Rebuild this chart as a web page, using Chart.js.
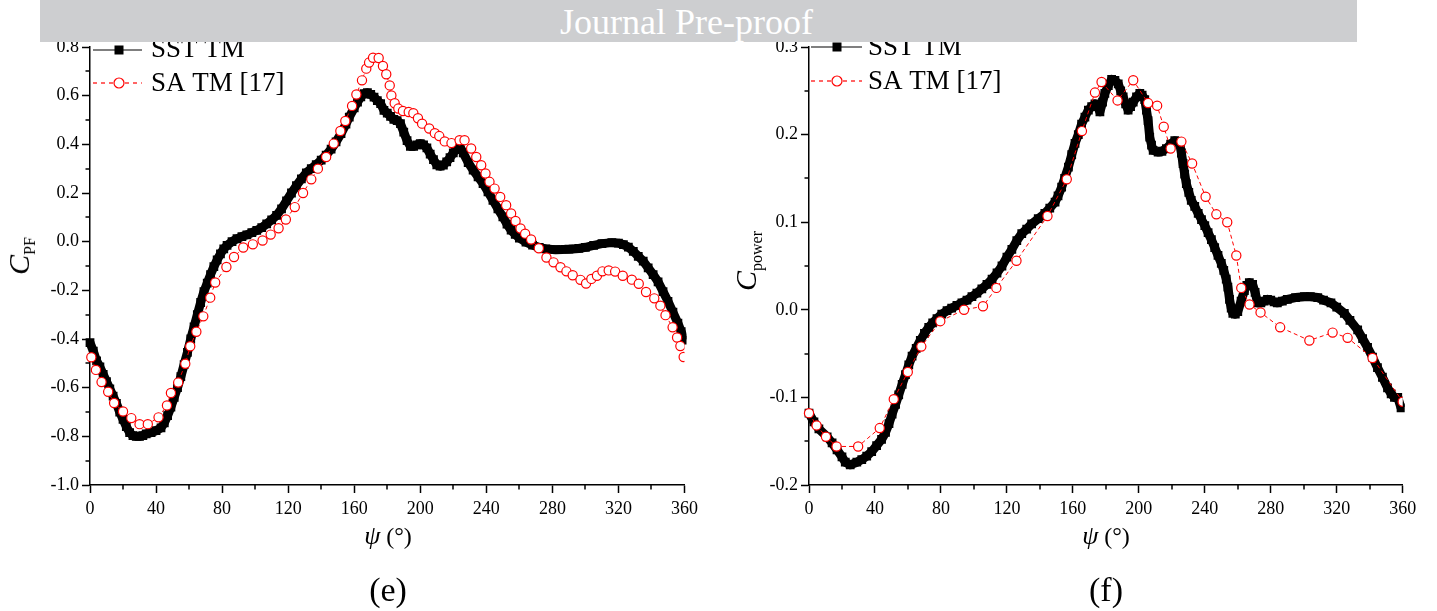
<!DOCTYPE html>
<html><head><meta charset="utf-8">
<script src="https://cdn.jsdelivr.net/npm/chart.js@4/dist/chart.umd.min.js"></script>
<style>
html,body{margin:0;padding:0;background:#fff;width:1437px;height:611px;overflow:hidden;font-family:"Liberation Serif","Times New Roman",serif;}
#wrap{position:relative;width:1437px;height:611px;}
canvas{position:absolute;top:0;}
#c1{left:0;} #c2{left:718px;}
.banner{position:absolute;left:40px;top:0;width:1317px;height:42px;background:#cdced0;z-index:5;overflow:hidden;}
.banner span{position:absolute;left:520px;top:5px;line-height:35px;font-size:36px;color:#fff;white-space:nowrap;}
.t{position:absolute;transform:translate(-50%,-50%);white-space:nowrap;color:#000;line-height:1;}
.xt{font-size:24px;}
.xt i{font-size:26px;}
.yt{transform:translate(-50%,-50%) rotate(-90deg);font-size:30px;}
.yt sub{font-size:16px;font-style:normal;vertical-align:-6px;}
.pl{font-size:34px;}
</style></head>
<body><div id="wrap">
<canvas id="c1" width="718" height="611"></canvas>
<canvas id="c2" width="719" height="611"></canvas>
<div class="banner"><span>Journal Pre-proof</span></div>
<div class="t yt" style="left:21px;top:256px;"><i>C</i><sub>PF</sub></div>
<div class="t yt" style="left:748px;top:261px;"><i>C</i><sub>power</sub></div>
<div class="t xt" style="left:388px;top:536px;"><i>ψ</i> (°)</div>
<div class="t xt" style="left:1106px;top:536px;"><i>ψ</i> (°)</div>
<div class="t pl" style="left:388px;top:590px;">(e)</div>
<div class="t pl" style="left:1106px;top:590px;">(f)</div>
</div>
<script>
// ---------- (e) C_PF ----------
const psiSST_e = [0,2,4,6,8,10,12,14,16,18,20,22,24,26,28,30,32,34,37,40,43,45,47,49,51,53,55,57,59,61,63,65,67,69,71,73,75,77,79,81,83,86,89,92,95,98,101,104,107,110,113,116,119,122,125,128,131,134,137,140,143,146,149,152,155,157,160,162,164,166,168,170,172,174,176,178,180,182,184,186,188,190,192,194,196,198,200,202,204,206,208,210,212,214,216,218,220,222,224,226,229,232,235,238,241,244,247,250,252.5,255,257.5,260,264,268,272,276,282,290,296,300,305,310,316,320,323,326,329,332,335,338,341,344,347,350,353,356,358,360];
const cpfSST = [-0.415,-0.45,-0.49,-0.515,-0.545,-0.575,-0.605,-0.635,-0.665,-0.7,-0.73,-0.76,-0.785,-0.797,-0.8,-0.8,-0.797,-0.79,-0.785,-0.777,-0.765,-0.745,-0.715,-0.68,-0.64,-0.6,-0.555,-0.505,-0.455,-0.4,-0.35,-0.3,-0.25,-0.205,-0.17,-0.135,-0.103,-0.075,-0.05,-0.03,-0.015,0,0.012,0.021,0.028,0.037,0.046,0.058,0.073,0.09,0.108,0.135,0.168,0.2,0.23,0.258,0.283,0.3,0.317,0.335,0.356,0.38,0.41,0.444,0.483,0.512,0.55,0.574,0.595,0.608,0.612,0.605,0.594,0.58,0.567,0.54,0.528,0.515,0.503,0.497,0.485,0.45,0.415,0.392,0.392,0.398,0.403,0.398,0.385,0.36,0.337,0.316,0.31,0.315,0.328,0.345,0.365,0.385,0.39,0.365,0.325,0.294,0.266,0.239,0.205,0.17,0.135,0.102,0.072,0.047,0.03,0.015,-0.002,-0.014,-0.024,-0.03,-0.033,-0.031,-0.028,-0.023,-0.015,-0.008,-0.004,-0.006,-0.012,-0.022,-0.04,-0.06,-0.08,-0.108,-0.135,-0.165,-0.205,-0.245,-0.29,-0.335,-0.37,-0.405];
const psiSA_e = [0.8,3.6,7,11,14.6,20,25,30,35,41.5,46.6,49,53.4,57.7,60.7,64.4,68.6,72.8,75.8,82.6,87.2,92.8,98.6,104.5,109.4,114.2,118.6,124,129,134,138,143,147.6,151.6,154.6,158.7,161.3,164.7,167.3,169,171.4,174.8,177.4,179.4,181.5,182.5,184.5,186.7,189.5,193,195.8,198.6,201.1,205.4,208.8,211.5,214.8,218.9,223.8,226.8,230.8,233.9,236.9,239.5,241.9,245,248.4,252,255,257.7,260.7,263.5,267.1,271.8,276.4,280.7,284.9,288.5,292.3,297,300.4,303.6,307,310.3,314.1,318,322.6,328.1,332.3,336.7,341.7,345.4,348.5,352.8,355.5,357.5,359.5];
const cpfSA = [-0.475,-0.527,-0.577,-0.617,-0.663,-0.698,-0.725,-0.75,-0.75,-0.722,-0.673,-0.622,-0.579,-0.502,-0.43,-0.37,-0.307,-0.23,-0.168,-0.104,-0.063,-0.024,-0.011,0.005,0.029,0.055,0.091,0.142,0.2,0.256,0.3,0.348,0.403,0.455,0.496,0.558,0.605,0.663,0.711,0.736,0.756,0.755,0.722,0.688,0.642,0.601,0.569,0.547,0.537,0.533,0.528,0.507,0.485,0.465,0.446,0.434,0.412,0.405,0.417,0.417,0.383,0.348,0.314,0.28,0.246,0.218,0.184,0.15,0.116,0.085,0.054,0.033,0.009,-0.027,-0.065,-0.085,-0.105,-0.122,-0.138,-0.157,-0.172,-0.153,-0.14,-0.122,-0.118,-0.123,-0.14,-0.156,-0.173,-0.207,-0.233,-0.263,-0.302,-0.352,-0.394,-0.429,-0.474];

// ---------- (f) C_power ----------
const psiSST_f = [0,3,6,11,14,17,20,22,25,29,32,35,38,41,44,46.4,48.5,50.4,52.5,54.4,56.5,58.5,60.5,62.5,65,67.5,70,72.6,75,77.6,80.5,83.7,86.5,89.7,92.7,95.8,98.8,101.8,104.8,107.9,111,114,117,120,123,126,129,132,135,139,143,146,149.2,151,153.2,155,157.3,159.3,161.3,163.3,165.3,167.3,169.4,171.4,173.4,175,176.4,178,179.4,181.5,183.5,185.5,187.5,189,190.5,192,193.5,195,196.6,198.6,200.6,202,203.6,204.6,205.6,206.6,207.7,208.7,211.7,214,216.7,219.3,221.8,223.5,224.8,225.8,226.8,227.8,228.8,230.3,231.8,233.9,236,238,240,242,244,246,248,250,251.5,253,254,255,256,257,258.5,260,262,264,265.5,267,269,270.5,272,274,276,278,280,282,284,287,290,295,300.4,304,308.5,312,316.5,320,324.6,328,332.7,335.7,338.7,341.7,344.7,347.7,350.8,353,355,357,359];
const cpowSST = [-0.118,-0.128,-0.136,-0.145,-0.152,-0.16,-0.168,-0.174,-0.177,-0.174,-0.171,-0.167,-0.162,-0.155,-0.148,-0.14,-0.13,-0.119,-0.108,-0.097,-0.085,-0.074,-0.063,-0.053,-0.044,-0.035,-0.027,-0.02,-0.015,-0.01,-0.005,-0.001,0.002,0.005,0.008,0.011,0.015,0.019,0.024,0.029,0.035,0.042,0.05,0.06,0.069,0.079,0.087,0.092,0.098,0.104,0.11,0.116,0.123,0.13,0.14,0.15,0.163,0.177,0.19,0.2,0.212,0.22,0.228,0.232,0.235,0.232,0.226,0.237,0.247,0.256,0.263,0.262,0.258,0.25,0.243,0.235,0.228,0.232,0.237,0.243,0.247,0.245,0.24,0.228,0.216,0.197,0.188,0.182,0.18,0.181,0.184,0.189,0.193,0.192,0.19,0.179,0.167,0.155,0.144,0.134,0.125,0.118,0.11,0.103,0.096,0.088,0.08,0.071,0.062,0.053,0.045,0.035,0.026,0.012,0.002,-0.004,-0.005,-0.002,0.01,0.022,0.028,0.031,0.029,0.02,0.008,0.008,0.01,0.012,0.011,0.009,0.008,0.01,0.012,0.014,0.015,0.015,0.014,0.011,0.008,0.003,-0.004,-0.012,-0.023,-0.033,-0.043,-0.054,-0.066,-0.077,-0.089,-0.096,-0.1,-0.1,-0.112];
const psiSA_f = [0,4.6,10.3,16.7,29.8,42.9,51.4,59.9,68.1,79.6,94,105.5,113.6,125.8,144.6,156.3,165.5,173.4,177.4,187.1,196.6,205.6,211.1,215.1,219.3,225.8,232.3,240.5,247,253.6,259.1,262.1,267.1,273.8,285.7,303.4,317.5,326.6,341.7,360];
const cpowSA = [-0.118,-0.132,-0.145,-0.156,-0.156,-0.135,-0.102,-0.071,-0.042,-0.013,0,0.004,0.025,0.056,0.107,0.149,0.204,0.248,0.26,0.239,0.262,0.236,0.233,0.209,0.184,0.192,0.167,0.129,0.109,0.1,0.062,0.025,0.006,-0.003,-0.02,-0.035,-0.026,-0.032,-0.055,-0.105];

// tick layout
const xMinor = [20,60,100,140,180,220,260,300,340];
const yMinor_e = [-0.9,-0.7,-0.5,-0.3,-0.1,0.1,0.3,0.5,0.7];
const yMinor_f = [-0.15,-0.05,0.05,0.15,0.25];

const serif = '"Liberation Serif","Times New Roman",serif';
const pts = (xs, ys) => xs.map((x, i) => ({x: x, y: ys[i]}));

const minorTicks = {
  id: 'minorTicks',
  afterDraw(chart, args, o) {
    const ctx = chart.ctx, xs = chart.scales.x, ys = chart.scales.y;
    ctx.save(); ctx.strokeStyle = '#000'; ctx.lineWidth = 1.5;
    o.x.forEach(v => { const p = Math.round(xs.getPixelForValue(v)); ctx.beginPath(); ctx.moveTo(p, ys.bottom); ctx.lineTo(p, ys.bottom + o.len); ctx.stroke(); });
    o.y.forEach(v => { const p = Math.round(ys.getPixelForValue(v)); ctx.beginPath(); ctx.moveTo(xs.left, p); ctx.lineTo(xs.left - o.len, p); ctx.stroke(); });
    ctx.restore();
  }
};

const innerLegend = {
  id: 'innerLegend',
  afterDraw(chart, args, o) {
    const ctx = chart.ctx;
    o.rows.forEach(r => {
      const ds = chart.data.datasets[r.ds];
      ctx.save();
      ctx.strokeStyle = ds.borderColor; ctx.lineWidth = 1.2; ctx.setLineDash(r.dash || []);
      ctx.beginPath(); ctx.moveTo(o.x0, r.y); ctx.lineTo(o.x1, r.y); ctx.stroke();
      ctx.setLineDash([]);
      if (ds.pointStyle === 'rect') {
        ctx.fillStyle = '#000'; ctx.fillRect(o.xm - 4.5, r.y - 4.5, 9, 9);
      } else {
        ctx.beginPath(); ctx.arc(o.xm, r.y, 5, 0, 2 * Math.PI);
        ctx.fillStyle = '#fff'; ctx.fill(); ctx.lineWidth = 1.2; ctx.strokeStyle = ds.pointBorderColor; ctx.stroke();
      }
      ctx.fillStyle = '#000'; ctx.font = '27px ' + serif; ctx.textBaseline = 'alphabetic';
      ctx.fillText(ds.label, o.xt, r.base);
      ctx.restore();
    });
  }
};

function makeChart(id, cfg) {
  const fmt = v => (Math.abs(v) < 1e-9 ? '0.0' : Number(v).toFixed(1));
  return new Chart(document.getElementById(id), {
    type: 'scatter',
    data: {
      datasets: [
        { label: 'SST TM', data: pts(cfg.sx, cfg.sy), showLine: true, order: 2,
          borderColor: '#000', backgroundColor: '#000', borderWidth: 9, borderJoinStyle: 'round', borderCapStyle: 'butt',
          pointStyle: 'rect', pointRadius: 6.2, pointBackgroundColor: '#000', pointBorderColor: '#000', pointBorderWidth: 0,
          clip: {left: 8, top: 8, right: 2, bottom: 8} },
        { label: 'SA TM [17]', data: pts(cfg.ax, cfg.ay), showLine: true, order: 1,
          borderColor: '#ff0000', backgroundColor: '#fff', borderWidth: 1, borderDash: [4, 3],
          pointStyle: 'circle', pointRadius: 4.6, pointBackgroundColor: '#fff', pointBorderColor: '#ff0000', pointBorderWidth: 1.2,
          clip: {left: 8, top: 8, right: 0, bottom: 8} }
      ]
    },
    options: {
      responsive: false, animation: false, events: [],
      layout: { padding: { top: 47, right: cfg.padR, left: 0, bottom: 0 } },
      plugins: {
        legend: { display: false }, tooltip: { enabled: false },
        minorTicks: { x: xMinor, y: cfg.yMinor, len: 4.5 },
        innerLegend: cfg.legend
      },
      scales: {
        x: { type: 'linear', min: 0, max: 360, afterFit: s => { s.height = 126; },
             ticks: { stepSize: 40, autoSkip: false, maxRotation: 0, color: '#000', padding: 5, font: { family: serif, size: 18 } },
             grid: { drawOnChartArea: false, drawTicks: true, tickLength: 8, tickColor: '#000', tickWidth: 1.5 },
             border: { display: true, color: '#000', width: 1.5 } },
        y: { type: 'linear', min: cfg.ymin, max: cfg.ymax, afterFit: s => { s.width = cfg.yw; },
             ticks: { stepSize: cfg.step, autoSkip: false, color: '#000', padding: 3, font: { family: serif, size: 18 }, callback: fmt },
             grid: { drawOnChartArea: false, drawTicks: true, tickLength: 8, tickColor: '#000', tickWidth: 1.5 },
             border: { display: true, color: '#000', width: 1.5 } }
      }
    },
    plugins: [minorTicks, innerLegend]
  });
}

makeChart('c1', { sx: psiSST_e, sy: cpfSST, ax: psiSA_e, ay: cpfSA, ymin: -1, ymax: 0.8, step: 0.2, yw: 90, padR: 33.5, yMinor: yMinor_e,
  legend: { x0: 93, x1: 142, xm: 119, xt: 151, rows: [ { ds: 0, y: 50, base: 57 }, { ds: 1, y: 83, base: 91, dash: [4, 4] } ] } });
makeChart('c2', { sx: psiSST_f, sy: cpowSST, ax: psiSA_f, ay: cpowSA, ymin: -0.2, ymax: 0.3, step: 0.1, yw: 91, padR: 34.3, yMinor: yMinor_f,
  legend: { x0: 93, x1: 144, xm: 119, xt: 150, rows: [ { ds: 0, y: 47, base: 55 }, { ds: 1, y: 81, base: 89, dash: [4, 4] } ] } });
</script>
</body></html>
